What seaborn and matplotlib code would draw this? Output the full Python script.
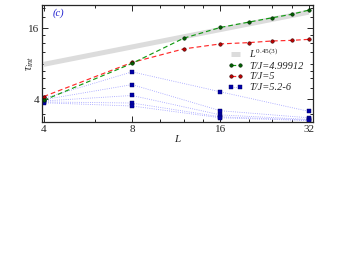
import numpy as np
import pandas as pd
import matplotlib
matplotlib.use("Agg")
import matplotlib.pyplot as plt
import seaborn as sns
from matplotlib.ticker import FixedLocator, NullFormatter

# -- Data

L_long = [4, 8, 12, 16, 20, 24, 28, 32]
tau_green = [3.9, 8.05, 13.2, 16.3, 18.1, 19.7, 21.1, 22.9]   # T/J=4.99912
tau_red = [4.2, 8.2, 10.7, 11.8, 12.1, 12.5, 12.65, 12.9]     # T/J=5

L_blue = [4, 8, 16, 32]
tau_blue_1 = [4.05, 6.82, 4.61, 3.14]
tau_blue_2 = [3.95, 5.31, 3.18, 2.77]
tau_blue_3 = [3.85, 4.29, 2.93, 2.68]
tau_blue_4 = [3.78, 3.70, 2.82, 2.65]
tau_blue_5 = [3.72, 3.49, 2.77, 2.62]

# power-law guide L^0.45(3)
band_L = [4, 32]
band_tau = [7.9, 22.0]

x_major = [4, 8, 16, 32]
x_minor = [6, 10, 12, 14, 20, 24, 28]
y_major = [4, 16]
y_minor = [3, 5, 6, 7, 8, 10, 12, 14, 20, 24]

# long-form table for the blue runs
blue_runs = [tau_blue_1, tau_blue_2, tau_blue_3, tau_blue_4, tau_blue_5]
df_blue = pd.DataFrame({
    "L": L_blue * len(blue_runs),
    "tau": np.concatenate(blue_runs),
    "run": np.repeat(np.arange(len(blue_runs)), len(L_blue)),
})

# -- Style

sns.set_style("ticks")
plt.rcParams["font.family"] = ["Liberation Serif", "DejaVu Serif"]
plt.rcParams["mathtext.fontset"] = "custom"
plt.rcParams["mathtext.rm"] = "Liberation Serif"
plt.rcParams["mathtext.it"] = "Liberation Serif:italic"

fig = plt.figure(figsize=(3.52, 2.72), dpi=100)
ax = fig.add_axes([0.1185, 0.5515, 0.7699, 0.430])

# -- Plot

sns.lineplot(x=band_L, y=band_tau, ax=ax, color="#dcdcdc", lw=3.6,
             solid_capstyle="butt", label=r"$\mathit{L}^{\mathit{0.45(3)}}$")

sns.lineplot(data=df_blue, x="L", y="tau", units="run", estimator=None, ax=ax,
             color="#9a9aff", lw=0.6, linestyle=":", marker="s", ms=2.3,
             mfc="#0000a8", mec="#000060", mew=0.3, label="T/J=5.2-6")

sns.lineplot(x=L_long, y=tau_red, ax=ax, color="#ff2a2a", lw=0.85,
             linestyle=(0, (4, 2.5)), marker="o", ms=2.5, mfc="#c00000",
             mec="#300000", mew=0.4, label="T/J=5")

sns.lineplot(x=L_long, y=tau_green, ax=ax, color="#129a12", lw=0.85,
             linestyle=(0, (4, 2.5)), marker="o", ms=2.5, mfc="#006000",
             mec="#002000", mew=0.4, label="T/J=4.99912")

# -- Axes

ax.set_xscale("log", base=2)
ax.set_yscale("log", base=2)
ax.set_xlim(3.94, 33.0)
ax.set_ylim(2.55, 25.3)

ax.set_xticks(x_major)
ax.set_xticklabels([str(v) for v in x_major])
ax.xaxis.set_minor_locator(FixedLocator(x_minor))
ax.xaxis.set_minor_formatter(NullFormatter())
ax.set_yticks(y_major)
ax.set_yticklabels([str(v) for v in y_major])
ax.yaxis.set_minor_locator(FixedLocator(y_minor))
ax.yaxis.set_minor_formatter(NullFormatter())

ax.tick_params(which="both", direction="in", top=True, right=True,
               labelsize=8, width=0.7, pad=2)
ax.tick_params(which="major", length=4)
ax.tick_params(which="minor", length=2.2)
for s in ax.spines.values():
    s.set_linewidth(0.9)

ax.set_xlabel("L", fontsize=8, style="italic", labelpad=1)
ax.set_ylabel(r"$\tau_{\mathit{int}}$", fontsize=8.5)
ax.yaxis.set_label_coords(-0.02, 0.5)
ax.text(0.04, 0.93, "(c)", transform=ax.transAxes, color="#2020d0",
        fontsize=7.5, style="italic", va="center")

# legend in reference order, one entry for the blue runs
handles, labels = ax.get_legend_handles_labels()
by_label = dict(zip(labels, handles))
order = [r"$\mathit{L}^{\mathit{0.45(3)}}$", "T/J=4.99912", "T/J=5", "T/J=5.2-6"]
ax.legend([by_label[k] for k in order], order, loc="upper left",
          bbox_to_anchor=(0.67, 0.68), frameon=False, numpoints=2,
          handlelength=1.5, handletextpad=0.6, labelspacing=0.15,
          borderaxespad=0, prop={"family": "Liberation Serif",
                                 "style": "italic", "size": 7.5})

fig.savefig("out.png", dpi=100)
